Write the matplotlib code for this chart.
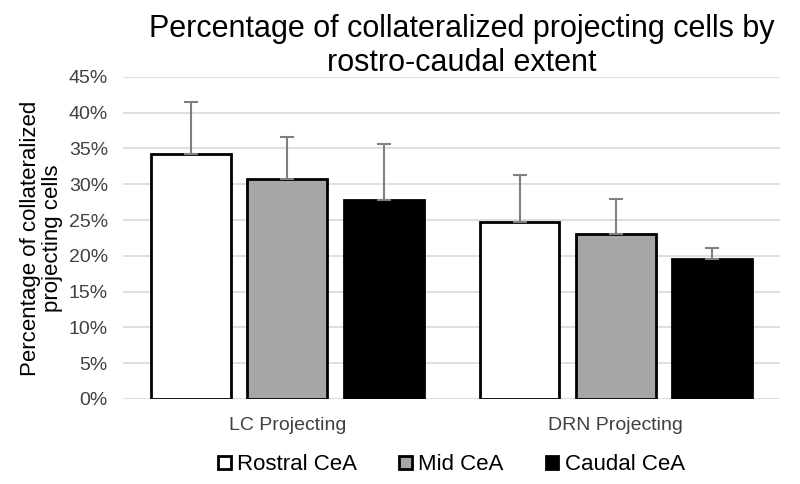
import numpy as np
import matplotlib
matplotlib.use("Agg")
import matplotlib.pyplot as plt
from matplotlib.ticker import FuncFormatter

plt.rcParams['font.family'] = ['Liberation Sans', 'DejaVu Sans']

groups = ['LC Projecting', 'DRN Projecting']
series = ['Rostral CeA', 'Mid CeA', 'Caudal CeA']
values = {
    'Rostral CeA': [34.2, 24.7],
    'Mid CeA': [30.7, 23.0],
    'Caudal CeA': [27.8, 19.5],
}
errors = {
    'Rostral CeA': [7.3, 6.6],
    'Mid CeA': [5.9, 4.9],
    'Caudal CeA': [7.8, 1.6],
}
fills = {'Rostral CeA': 'white', 'Mid CeA': '#a6a6a6', 'Caudal CeA': 'black'}

fig = plt.figure(figsize=(8, 4.84), dpi=100)
ax = fig.add_axes([0.154, 0.176, 0.821, 0.665])

x = np.arange(len(groups))
width = 0.243
step = 0.293
for i, s in enumerate(series):
    pos = x + (i - 1) * step
    ax.bar(pos, values[s], width, color=fills[s], edgecolor='black',
           linewidth=2, label=s, zorder=3)
    ax.errorbar(pos, values[s], yerr=[np.zeros(len(groups)), errors[s]],
                fmt='none', ecolor='#808080', elinewidth=1.5, capsize=5,
                capthick=1.5, zorder=4)

ax.set_xlim(-0.5, 1.5)
ax.set_ylim(0, 45)
ax.set_yticks(np.arange(0, 46, 5))
ax.yaxis.set_major_formatter(FuncFormatter(lambda v, p: f"{v:.0f}%"))
ax.set_xticks(x)
ax.set_xticklabels(groups)
ax.grid(axis='y', color='#d9d9d9', linewidth=1.2, zorder=0)
for sp in ax.spines.values():
    sp.set_visible(False)
ax.tick_params(axis='y', length=0, labelsize=14, pad=11)
ax.tick_params(axis='x', length=0, labelsize=14, pad=13)
for lbl in ax.get_xticklabels() + ax.get_yticklabels():
    lbl.set_color('#404040')

ax.set_ylabel('Percentage of collateralized\nprojecting cells', fontsize=16,
              color='black', labelpad=4, linespacing=1.05)
fig.text(0.577, 0.905, 'Percentage of collateralized projecting cells by\nrostro-caudal extent',
         fontsize=22, ha='center', va='center', linespacing=1.15)

leg = ax.legend(loc='upper center', bbox_to_anchor=(0.5, -0.11), ncol=3,
                frameon=False, fontsize=16, handlelength=0.55, handleheight=0.55,
                handletextpad=0.3, columnspacing=1.9)

fig.savefig('out.png', dpi=100)
